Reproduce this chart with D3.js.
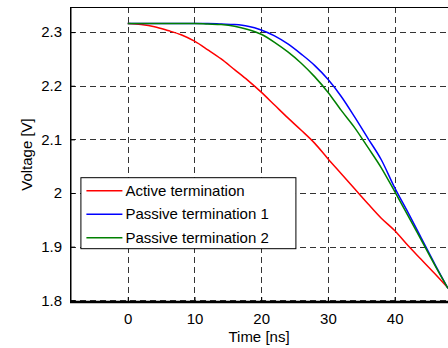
<!DOCTYPE html>
<html>
<head>
<meta charset="utf-8">
<script src="https://cdn.jsdelivr.net/npm/d3@7"></script>
<style>
  body { margin: 0; background: #fff; }
  text { font-family: "Liberation Sans", Arial, sans-serif; }
</style>
</head>
<body>
<script>
// Data (time in ns, voltage in V)
let timeNs = [0, 2, 4, 6, 8, 10, 12, 14, 16, 18, 20, 22, 24, 26, 28, 30, 32, 34, 36, 38, 40, 42, 44, 46, 48];
let activeTerm = [2.316, 2.314, 2.310, 2.303, 2.295, 2.283, 2.267, 2.250, 2.230, 2.210, 2.188, 2.164, 2.140, 2.117, 2.093, 2.064, 2.036, 2.008, 1.980, 1.953, 1.930, 1.902, 1.876, 1.850, 1.823];
let passiveTerm1 = [2.316, 2.316, 2.316, 2.316, 2.316, 2.316, 2.316, 2.315, 2.314, 2.311, 2.304, 2.293, 2.278, 2.259, 2.238, 2.212, 2.180, 2.142, 2.102, 2.062, 2.010, 1.964, 1.916, 1.868, 1.822];
let passiveTerm2 = [2.316, 2.316, 2.316, 2.316, 2.316, 2.316, 2.315, 2.314, 2.311, 2.305, 2.296, 2.281, 2.263, 2.242, 2.217, 2.188, 2.154, 2.122, 2.085, 2.047, 2.003, 1.958, 1.912, 1.866, 1.822];
let seriesNames = ["Active termination", "Passive termination 1", "Passive termination 2"];
let seriesColors = ["#ff0000", "#0000ff", "#008000"];
let xTicks = [0, 10, 20, 30, 40];
let yTicks = [1.8, 1.9, 2.0, 2.1, 2.2, 2.3];

let svgWidth = 448;
let svgHeight = 348;
let chartMargin = { top: 7, right: 0, bottom: 46, left: 70 };
let chartWidth = svgWidth - chartMargin.left - chartMargin.right;
let chartHeight = svgHeight - chartMargin.top - chartMargin.bottom;

let svg = d3.select("body")
    .append("svg")
    .attr("width", svgWidth)
    .attr("height", svgHeight);

let chartGroup = svg.append("g")
    .attr("transform", `translate(${chartMargin.left}, ${chartMargin.top})`);

let xScale = d3.scaleLinear()
    .domain([-8.66, 48.0])
    .range([0, chartWidth]);

let yScale = d3.scaleLinear()
    .domain([1.7968, 2.3468])
    .range([chartHeight, 0]);

// Dashed grid
chartGroup.append("g")
    .selectAll("line")
    .data(xTicks)
    .enter()
    .append("line")
    .attr("x1", d => Math.round(xScale(d)) + 0.5)
    .attr("x2", d => Math.round(xScale(d)) + 0.5)
    .attr("y1", 0)
    .attr("y2", chartHeight)
    .attr("stroke", "#333")
    .attr("stroke-dasharray", "6,4");

chartGroup.append("g")
    .selectAll("line")
    .data(yTicks)
    .enter()
    .append("line")
    .attr("x1", 0)
    .attr("x2", chartWidth)
    .attr("y1", d => Math.round(yScale(d)) + 0.5)
    .attr("y2", d => Math.round(yScale(d)) + 0.5)
    .attr("stroke", "#333")
    .attr("stroke-dasharray", "6,4");

// Axes with inward ticks
let xAxis = d3.axisBottom(xScale).tickValues(xTicks).tickSizeInner(-5).tickSizeOuter(0).tickPadding(11);
let yAxis = d3.axisLeft(yScale).tickValues(yTicks).tickSizeInner(-5).tickSizeOuter(0).tickPadding(8)
    .tickFormat(d => d === 2 ? "2" : d3.format(".1f")(d));

let gx = chartGroup.append("g")
    .attr("transform", `translate(0, ${chartHeight})`)
    .call(xAxis);
let gy = chartGroup.append("g")
    .call(yAxis);

[gx, gy].forEach(g => {
    g.select(".domain").remove();
    g.selectAll("line").attr("stroke", "#000");
    g.selectAll("text").attr("font-size", 15).attr("fill", "#000")
        .style("font-family", "'Liberation Sans', Arial, sans-serif");
});

// Box lines
chartGroup.append("line")
    .attr("x1", 0).attr("x2", chartWidth)
    .attr("y1", 0.5).attr("y2", 0.5)
    .attr("stroke", "#000");
chartGroup.append("line")
    .attr("x1", 0.75).attr("x2", 0.75)
    .attr("y1", 0).attr("y2", chartHeight)
    .attr("stroke", "#000").attr("stroke-width", 1.5);
chartGroup.append("line")
    .attr("x1", 0).attr("x2", chartWidth)
    .attr("y1", chartHeight).attr("y2", chartHeight)
    .attr("stroke", "#000").attr("stroke-width", 2.5);

// Curves
let allSeries = [activeTerm, passiveTerm1, passiveTerm2];
let lineGen = d3.line()
    .x((d, i) => xScale(timeNs[i]))
    .y(d => yScale(d))
    .curve(d3.curveMonotoneX);

chartGroup.append("g")
    .selectAll("path")
    .data(allSeries)
    .enter()
    .append("path")
    .attr("d", d => lineGen(d))
    .attr("fill", "none")
    .attr("stroke", (d, i) => seriesColors[i])
    .attr("stroke-width", 1.5);

// Legend
let legend = chartGroup.append("g")
    .attr("transform", `translate(${xScale(-7.1)}, ${yScale(2.0295)})`);

legend.append("rect")
    .attr("x", 0.5).attr("y", 0.5)
    .attr("width", 215).attr("height", 71)
    .attr("fill", "#fff")
    .attr("stroke", "#000");

let legendRows = legend.selectAll(".row")
    .data(seriesNames)
    .enter()
    .append("g")
    .attr("class", "row")
    .attr("transform", (d, i) => `translate(0, ${13.5 + i * 23.5})`);

legendRows.append("line")
    .attr("x1", 6).attr("x2", 42)
    .attr("y1", 0).attr("y2", 0)
    .attr("stroke", (d, i) => seriesColors[i])
    .attr("stroke-width", 1.5);

legendRows.append("text")
    .attr("x", 45)
    .attr("dy", "0.35em")
    .attr("font-size", 15)
    .text(d => d);

// Axis labels
chartGroup.append("text")
    .attr("transform", "rotate(-90)")
    .attr("x", -chartHeight / 2)
    .attr("y", -chartMargin.left + 32)
    .attr("text-anchor", "middle")
    .attr("font-size", 15)
    .text("Voltage [V]");

chartGroup.append("text")
    .attr("x", chartWidth / 2)
    .attr("y", chartHeight + 40)
    .attr("text-anchor", "middle")
    .attr("font-size", 15)
    .text("Time [ns]");
</script>
</body>
</html>
